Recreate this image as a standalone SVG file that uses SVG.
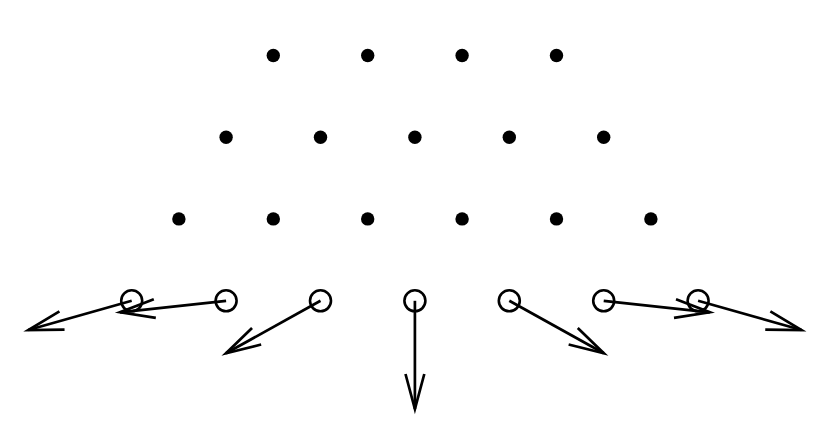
<svg xmlns="http://www.w3.org/2000/svg" width="830" height="446" viewBox="0 0 830 446">
<style>
.dot{fill:#000}
.ring{fill:none;stroke:#000;stroke-width:2.6}
.vec{fill:none;stroke:#000;stroke-width:2.7}
</style>
<defs>
<marker id="ah" markerUnits="userSpaceOnUse" orient="auto" markerWidth="50" markerHeight="30" refX="0" refY="0" viewBox="-40 -15 50 30" overflow="visible">
<path d="M-35,-9.4 L0,0 L-35,9.4" fill="none" stroke="#000" stroke-width="2.7"/>
</marker>
</defs>
<rect width="830" height="446" fill="#fff"/>
<g id="row1">
<circle class="dot" cx="273.3" cy="55.5" r="6.7"/>
<circle class="dot" cx="367.7" cy="55.5" r="6.7"/>
<circle class="dot" cx="462.1" cy="55.5" r="6.7"/>
<circle class="dot" cx="556.5" cy="55.5" r="6.7"/>
</g>
<g id="row2">
<circle class="dot" cx="226.1" cy="137.2" r="6.7"/>
<circle class="dot" cx="320.5" cy="137.2" r="6.7"/>
<circle class="dot" cx="414.9" cy="137.2" r="6.7"/>
<circle class="dot" cx="509.3" cy="137.2" r="6.7"/>
<circle class="dot" cx="603.7" cy="137.2" r="6.7"/>
</g>
<g id="row3">
<circle class="dot" cx="178.9" cy="218.9" r="6.7"/>
<circle class="dot" cx="273.3" cy="218.9" r="6.7"/>
<circle class="dot" cx="367.7" cy="218.9" r="6.7"/>
<circle class="dot" cx="462.1" cy="218.9" r="6.7"/>
<circle class="dot" cx="556.5" cy="218.9" r="6.7"/>
<circle class="dot" cx="650.9" cy="218.9" r="6.7"/>
</g>
<g id="row4">
<circle class="ring" cx="131.7" cy="300.8" r="10.5"/>
<circle class="ring" cx="226.1" cy="300.8" r="10.5"/>
<circle class="ring" cx="320.5" cy="300.8" r="10.5"/>
<circle class="ring" cx="414.9" cy="300.8" r="10.5"/>
<circle class="ring" cx="509.3" cy="300.8" r="10.5"/>
<circle class="ring" cx="603.7" cy="300.8" r="10.5"/>
<circle class="ring" cx="698.1" cy="300.8" r="10.5"/>
</g>
<g id="connectors">
<line class="vec" x1="131.7" y1="300.8" x2="28.3" y2="330" marker-end="url(#ah)"/>
<line class="vec" x1="226.1" y1="300.8" x2="120" y2="312.3" marker-end="url(#ah)"/>
<line class="vec" x1="320.5" y1="300.8" x2="226" y2="353.3" marker-end="url(#ah)"/>
<line class="vec" x1="414.9" y1="300.8" x2="414.9" y2="409" marker-end="url(#ah)"/>
<line class="vec" x1="509.3" y1="300.8" x2="603.8" y2="353.3" marker-end="url(#ah)"/>
<line class="vec" x1="603.7" y1="300.8" x2="709.8" y2="312.3" marker-end="url(#ah)"/>
<line class="vec" x1="698.1" y1="300.8" x2="801.5" y2="330" marker-end="url(#ah)"/>
</g>
</svg>
